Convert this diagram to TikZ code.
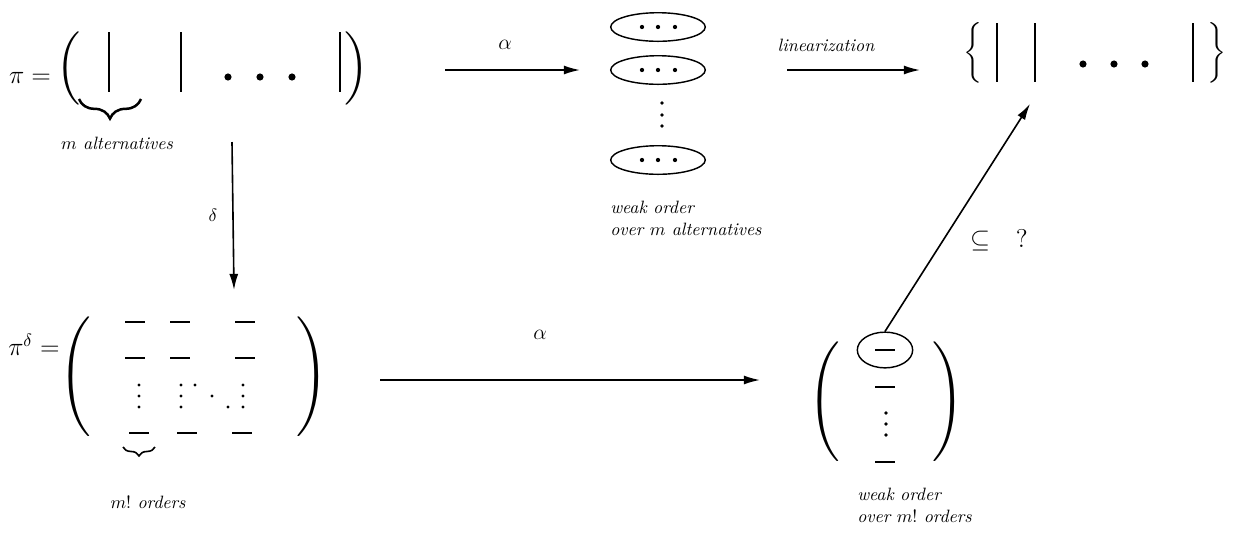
\documentclass[tikz,border=0pt]{standalone}
\usepackage{graphicx}
\usetikzlibrary{arrows.meta,shapes.geometric,decorations.pathreplacing}
\newcommand{\tallDelim}[2]{\resizebox*{!}{#2}{$#1$}}

\begin{document}
\begin{tikzpicture}[x=0.56pt,y=-0.56pt,
arr/.style={
line width=0.9pt,
-{Latex[length=9pt,width=5pt]}
},
bar/.style={line width=1.4pt},
rowdash/.style={line width=0.7pt},
order/.style={
ellipse,
draw,
line width=0.8pt,
minimum width=53pt,
minimum height=16pt,
inner sep=0pt
},
lbl/.style={font=\itshape,align=left},
delim/.style={inner sep=0pt},
under/.style={decorate,line width=1.4pt}
]
\useasboundingbox (0,0) rectangle (1234,537);

% profile pi
\node (pi) at (30,78) {\Large$\pi =$};
\node[delim] (lpi) at (69,68) {\tallDelim{\Big(}{41pt}};
\node[delim] (rpi) at (357,68) {\tallDelim{\Big)}{41pt}};
\draw[bar] (109,32) -- (109,92);
\draw[bar] (181,32) -- (181,92);
\draw[bar] (340,32) -- (340,92);
\foreach \x in {228,260,292} \fill (\x,77) circle (2pt);
\draw[under,decoration={brace,amplitude=11pt}] (141,99) -- (79,99);
\node[lbl] (malt) at (117,143) {$m$ alternatives};

% weak order
\coordinate (a1s) at (445,70);
\coordinate (a1e) at (580,70);
\draw[arr] (a1s) -- (a1e);
\node (alpha1) at (505,45) {\large$\alpha$};
\node[order] (e1) at (658,27) {};
\node[order] (e2) at (658,70) {};
\node[order] (e3) at (658,160) {};
\foreach \y in {27,70,160}
  \foreach \x in {642,658,675} \fill (\x,\y) circle (1.2pt);
\foreach \y in {103,115,126} \fill (662,\y) circle (1.1pt);
\node[lbl,anchor=north west] (wo1) at (604,195) {weak order\\over $m$ alternatives};

% linear orders
\coordinate (ls) at (787,70);
\coordinate (le) at (920,70);
\draw[arr] (ls) -- (le);
\node[lbl] (lin) at (826,45) {linearization};
\node[delim] (lset) at (973,53) {\tallDelim{\bigg\{}{34pt}};
\node[delim] (rset) at (1217,53) {\tallDelim{\bigg\}}{34pt}};
\draw[bar] (997,23) -- (997,82);
\draw[bar] (1035,23) -- (1035,82);
\draw[bar] (1193,23) -- (1193,82);
\foreach \x in {1083,1114,1145} \fill (\x,64) circle (2pt);

% delta
\coordinate (ds) at (232,142);
\coordinate (de) at (234,290);
\draw[arr] (ds) -- (de);
\node (delta) at (213,215) {$\delta$};

% profile pi delta
\node (pid) at (34,345) {\Large$\pi^\delta =$};
\node[delim] (lpid) at (75,377) {\tallDelim{\Bigg(}{67pt}};
\node[delim] (rpid) at (312,377) {\tallDelim{\Bigg)}{67pt}};
\foreach \x in {135,180,245} {
  \draw[rowdash] (\x-10,322) -- (\x+10,322);
  \draw[rowdash] (\x-10,358) -- (\x+10,358);
}
\foreach \x in {139,187,242} \draw[rowdash] (\x-10,433) -- (\x+10,433);
\foreach \x in {139,181,243}
  \foreach \y in {385,396,407} \fill (\x,\y) circle (0.9pt);
\fill (195,385) circle (0.9pt);
\fill (212,396) circle (0.9pt);
\fill (228,407) circle (0.9pt);
\draw[under,line width=0.9pt,decoration={brace,amplitude=5pt}] (155,447) -- (123,447);
\node[lbl] (mfac) at (148,502) {$m!$ orders};

% weak order over orders
\coordinate (a2s) at (380,380);
\coordinate (a2e) at (760,380);
\draw[arr] (a2s) -- (a2e);
\node (alpha2) at (540,335) {\large$\alpha$};
\node[delim] (lwo) at (824,402) {\tallDelim{\Bigg(}{67pt}};
\node[delim] (rwo) at (948,402) {\tallDelim{\Bigg)}{67pt}};
\node[order,minimum width=31pt,minimum height=20pt] (e4) at (885,350) {};
\foreach \y in {350,387,462} \draw[rowdash] (875,\y) -- (895,\y);
\foreach \y in {413,424,435} \fill (886,\y) circle (1.1pt);
\node[lbl,anchor=north west] (wo2) at (851,482) {weak order\\over $m!$ orders};

% inclusion
\coordinate (setin) at (1030,104);
\draw[arr] (e4.north) -- (setin);
\node (subq) at (999,240) {\Large$\subseteq$\quad ?};
\end{tikzpicture}
\end{document}
